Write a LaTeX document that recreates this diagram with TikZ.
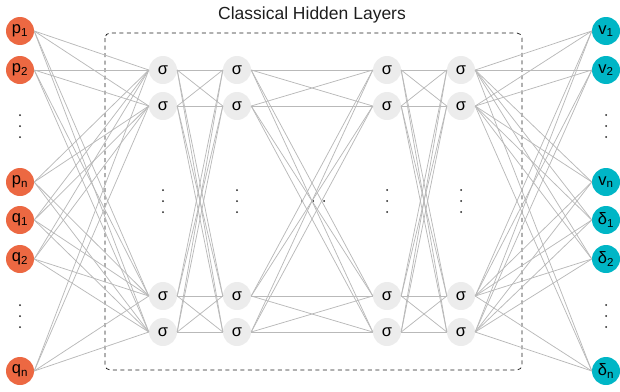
\documentclass[tikz,border=0pt]{standalone}
\usepackage{fontspec}
\setmainfont{Liberation Sans}
\usetikzlibrary{positioning}
\definecolor{nnOrange}{RGB}{236,104,66}
\definecolor{nnCyan}{RGB}{0,182,198}
\definecolor{nnSigma}{RGB}{236,236,236}
\definecolor{nnEdge}{RGB}{185,185,185}
\definecolor{nnGray}{RGB}{30,30,30}

\begin{document}
\begin{tikzpicture}[x=1pt,y=-1pt,
  inp/.style={circle, fill=nnOrange, minimum size=28pt, inner sep=0pt, font=\fontsize{16.5}{16.5}\selectfont},
  outp/.style={circle, fill=nnCyan, minimum size=28pt, inner sep=0pt, font=\fontsize{16.5}{16.5}\selectfont},
  hid/.style={circle, fill=nnSigma, minimum size=28pt, inner sep=0pt, font=\fontsize{16.5}{16.5}\selectfont},
  edge/.style={nnEdge, line width=0.75pt},
  dot/.style={fill=nnGray}]
  \useasboundingbox (0,0) rectangle (620,391);

  % Title and hidden block
  \node[font=\fontsize{17.5}{17.5}\selectfont, text=nnGray] (title) at (312,15) {Classical Hidden Layers};
  \draw[nnGray, dash pattern=on 4pt off 3.5pt, rounded corners=5pt, line width=0.75pt] (105,33) rectangle (522,370);

  % Input layer
  \node[inp] (p1) at (20,31)  {p\textsubscript{1}};
  \node[inp] (p2) at (20,70)  {p\textsubscript{2}};
  \node[inp] (pn) at (20,182) {p\textsubscript{n}};
  \node[inp] (q1) at (20,220) {q\textsubscript{1}};
  \node[inp] (q2) at (20,259) {q\textsubscript{2}};
  \node[inp] (qn) at (20,371) {q\textsubscript{n}};

  % Output layer
  \node[outp] (v1) at (606,31)  {v\textsubscript{1}};
  \node[outp] (v2) at (606,70)  {v\textsubscript{2}};
  \node[outp] (vn) at (606,182) {v\textsubscript{n}};
  \node[outp] (d1) at (606,220) {δ\textsubscript{1}};
  \node[outp] (d2) at (606,259) {δ\textsubscript{2}};
  \node[outp] (dn) at (606,371) {δ\textsubscript{n}};

  % Hidden layers
  \foreach \l/\x in {1/163,2/237,3/387,4/461} {
    \node[hid] (s\l1) at (\x,70)  {σ};
    \node[hid] (s\l2) at (\x,106) {σ};
    \node[hid] (s\l3) at (\x,296) {σ};
    \node[hid] (s\l4) at (\x,332) {σ};
    \foreach \y in {190,201,212}
      \fill[dot] (\x,\y) circle (1pt);
  }

  % Ellipsis dots
  \foreach \y in {115,126,137,305,316,327} {
    \fill[dot] (20,\y) circle (1pt);
    \fill[dot] (606,\y) circle (1pt);
  }
  \foreach \x in {302,313,324}
    \fill[dot] (\x,201) circle (1pt);

  % Connections
  \foreach \a in {p1,p2,pn,q1,q2,qn}
    \foreach \b in {1,...,4}
      \draw[edge] (\a.east) -- (s1\b.west);
  \foreach \l/\m in {1/2,2/3,3/4}
    \foreach \a in {1,...,4}
      \foreach \b in {1,...,4}
        \draw[edge] (s\l\a.east) -- (s\m\b.west);
  \foreach \a in {1,...,4}
    \foreach \b in {v1,v2,vn,d1,d2,dn}
      \draw[edge] (s4\a.east) -- (\b.west);
\end{tikzpicture}
\end{document}
